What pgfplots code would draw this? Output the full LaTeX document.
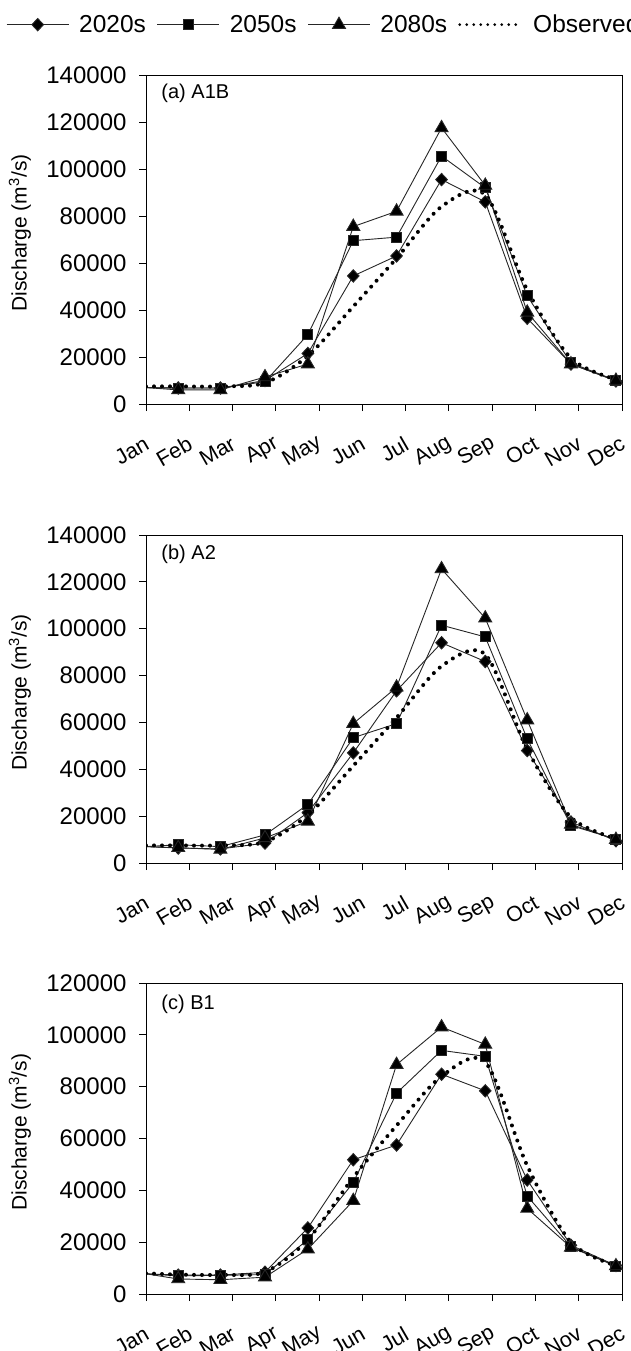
\documentclass[border=0pt]{standalone}
\usepackage{pgfplots}
\pgfplotsset{compat=1.18}
\usepackage{fontspec}
\setmainfont{Liberation Sans}

\pgfplotsset{
 myaxis/.style={
  scale only axis, width=476pt,
  xmin=0, xmax=11, ymin=0,
  xtick={0,1,2,3,4,5,6,7,8,9,10,11},
  xticklabels={Jan,Feb,Mar,Apr,May,Jun,Jul,Aug,Sep,Oct,Nov,Dec},
  xtick pos=bottom, ytick pos=left,
  tick align=outside, major tick length=7pt,
  tick style={black, line width=1pt},
  axis line style={line width=1pt},
  scaled y ticks=false,
  /pgf/number format/assume math mode=true,
  yticklabel style={/pgf/number format/fixed, /pgf/number format/1000 sep={}, font=\fontsize{24}{28}\selectfont, xshift=-9pt},
  xticklabel style={font=\fontsize{21.5}{25}\selectfont, yshift=-31pt, xshift=1pt, rotate=30, anchor=east, inner sep=0pt},
  ylabel={Discharge (m\textsuperscript{3}/s)},
  ylabel style={font=\fontsize{21}{25}\selectfont, at={(axis description cs:-0.265,0.52)}, anchor=center},
 },
 s20/.style={black!85, line width=0.9pt, mark=diamond*, mark size=6.2pt, mark options={solid, fill=black, xscale=1.25}, mark repeat=1, mark phase=2},
 s50/.style={black!85, line width=0.9pt, mark=square*, mark size=5pt, mark options={solid, fill=black}, mark repeat=1, mark phase=2},
 s80/.style={black!85, line width=0.9pt, mark=triangle*, mark size=7.5pt, mark options={solid, fill=black}, mark repeat=1, mark phase=2},
 sobs/.style={black, line width=4pt, dash pattern=on 0pt off 8pt, line cap=round, smooth, tension=0.5, no marks},
}

% x positions of the points (axis runs 0 = Jan tick ... 11 = Dec tick)
\pgfplotstableread{
x      c20     c50     c80     obs
0      7000    7000    7000    7500
0.745  6800    6800    6000    7500
1.72   6800    6800    6000    7500
2.75   10000   9500    11500   9000
3.74   21500   29500   17000   20500
4.79   54500   69500   75500   41500
5.79   63000   71000   82000   62000
6.83   95500   105500  117500  84000
7.84   86000   92000   93000   89000
8.81   36500   46000   39000   48500
9.82   17000   17500   17000   19500
10.86  9800    10000   10000   10500
}\tabA

\pgfplotstableread{
x      c20     c50     c80     obs
0      7000    7000    7000    7500
0.745  6400    7800    6500    7500
1.72   6000    7000    5800    7500
2.75   8500    12000   10700   9000
3.74   21500   25000   17800   20500
4.79   47000   53500   59500   41500
5.79   73500   59500   75000   62000
6.83   94000   101500  125500  84000
7.84   86000   96500   104500  89000
8.81   48000   53000   61000   48500
9.82   17500   16000   16500   19500
10.86  9500    10200   10000   10500
}\tabB

\pgfplotstableread{
x      c20     c50     c80     obs
0      7800    7800    7800    8000
0.745  7300    7000    5800    7500
1.72   7300    7200    5500    7400
2.75   8400    7500    6500    8500
3.74   25500   21000   17300   21000
4.79   51800   43000   36000   45000
5.79   57500   77500   88500   65000
6.83   84800   94000   103000  84000
7.84   78400   91700   96300   89500
8.81   44000   37800   33000   49500
9.82   18800   18300   18000   20000
10.86  11000   10800   10800   11000
}\tabC

\begin{document}
\begin{tikzpicture}
% (a)
\begin{axis}[myaxis, at={(146pt,-404pt)}, anchor=south west, height=329pt, ymax=140000, ytick={0,20000,...,140000},
  legend style={at={(axis description cs:-0.294,1.153)}, anchor=west, draw=none, fill=none, inner sep=0pt,
    legend columns=-1, font=\fontsize{24.5}{28}\selectfont, nodes={inner sep=0pt},
    /tikz/every odd column/.append style={column sep=10pt},
    /tikz/every even column/.append style={column sep=11pt}},
  legend image code/.code={\draw[mark repeat=2,mark phase=2] plot coordinates {(0pt,0pt) (31pt,0pt) (62pt,0pt)};}]
\addplot[s20] table[x=x,y=c20] {\tabA};
\addlegendentry{2020s}
\addplot[s50] table[x=x,y=c50] {\tabA};
\addlegendentry{2050s}
\addplot[s80] table[x=x,y=c80] {\tabA};
\addlegendentry{2080s}
\addplot[sobs, forget plot] table[x=x,y=obs] {\tabA};
\addlegendimage{sobs, line width=3pt, dash pattern=on 0pt off 7pt}
\addlegendentry{Observed}
\node[anchor=west, font=\fontsize{20}{24}\selectfont] at (rel axis cs:0.025,0.945) {(a) A1B};
\end{axis}
% (b)
\begin{axis}[myaxis, at={(146pt,-863pt)}, anchor=south west, height=328pt, ymax=140000, ytick={0,20000,...,140000}]
\addplot[s20] table[x=x,y=c20] {\tabB};
\addplot[s50] table[x=x,y=c50] {\tabB};
\addplot[s80] table[x=x,y=c80] {\tabB};
\addplot[sobs] table[x=x,y=obs] {\tabB};
\node[anchor=west, font=\fontsize{20}{24}\selectfont] at (rel axis cs:0.025,0.942) {(b) A2};
\end{axis}
% (c)
\begin{axis}[myaxis, at={(146pt,-1294pt)}, anchor=south west, height=311pt, ymax=120000, ytick={0,20000,...,120000}]
\addplot[s20] table[x=x,y=c20] {\tabC};
\addplot[s50] table[x=x,y=c50] {\tabC};
\addplot[s80] table[x=x,y=c80] {\tabC};
\addplot[sobs] table[x=x,y=obs] {\tabC};
\node[anchor=west, font=\fontsize{20}{24}\selectfont] at (rel axis cs:0.025,0.932) {(c) B1};
\end{axis}
\pgfresetboundingbox
\useasboundingbox (0pt,0pt) rectangle (631pt,-1351pt);
\end{tikzpicture}
\end{document}
